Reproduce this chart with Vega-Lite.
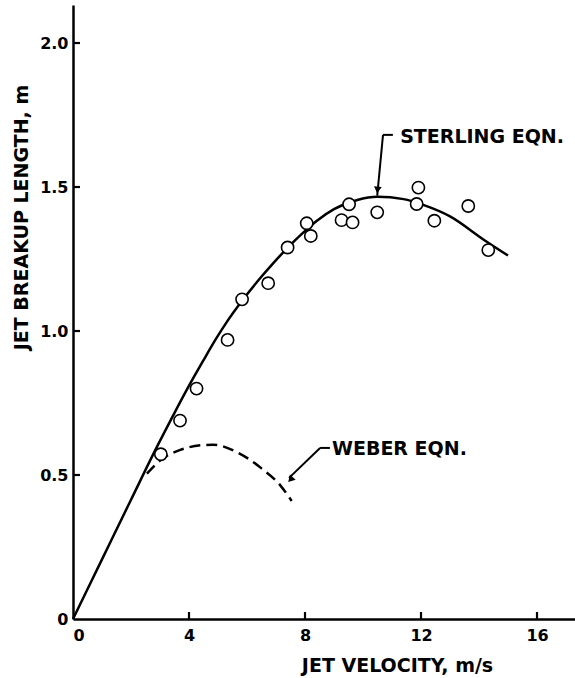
{
  "$schema": "https://vega.github.io/schema/vega-lite/v6.json",
  "autosize": "none",
  "width": 502,
  "height": 614,
  "padding": {"left": 73, "top": 5, "right": 0, "bottom": 59},
  "background": "white",
  "config": {
    "view": {"stroke": null},
    "font": "DejaVu Sans",
    "axis": {
      "grid": false,
      "ticks": false,
      "domainColor": "black",
      "domainWidth": 2.5,
      "labelColor": "black",
      "labelFont": "DejaVu Sans",
      "labelFontSize": 16,
      "labelFontWeight": "bold",
      "titleColor": "black",
      "titleFont": "DejaVu Sans",
      "titleFontSize": 19,
      "titleFontWeight": "bold"
    }
  },
  "datasets": {
    "obs": [
      {"v": 3.03, "L": 0.572},
      {"v": 3.69, "L": 0.689},
      {"v": 4.26, "L": 0.800},
      {"v": 5.33, "L": 0.969},
      {"v": 5.83, "L": 1.110},
      {"v": 6.73, "L": 1.166},
      {"v": 7.40, "L": 1.290},
      {"v": 8.06, "L": 1.374},
      {"v": 8.20, "L": 1.330},
      {"v": 9.26, "L": 1.385},
      {"v": 9.52, "L": 1.440},
      {"v": 9.64, "L": 1.377},
      {"v": 10.49, "L": 1.412},
      {"v": 11.85, "L": 1.441},
      {"v": 11.91, "L": 1.498},
      {"v": 12.46, "L": 1.383},
      {"v": 13.63, "L": 1.434},
      {"v": 14.32, "L": 1.281}
    ],
    "sterling": [
      {"v": 0, "L": 0},
      {"v": 1.0, "L": 0.207},
      {"v": 2.0, "L": 0.414},
      {"v": 2.88, "L": 0.595},
      {"v": 3.46, "L": 0.708},
      {"v": 3.80, "L": 0.773},
      {"v": 4.15, "L": 0.837},
      {"v": 4.49, "L": 0.897},
      {"v": 4.95, "L": 0.976},
      {"v": 5.30, "L": 1.031},
      {"v": 5.83, "L": 1.105},
      {"v": 6.40, "L": 1.177},
      {"v": 6.90, "L": 1.235},
      {"v": 7.40, "L": 1.289},
      {"v": 7.90, "L": 1.338},
      {"v": 8.40, "L": 1.382},
      {"v": 9.00, "L": 1.423},
      {"v": 9.80, "L": 1.455},
      {"v": 10.50, "L": 1.466},
      {"v": 11.40, "L": 1.458},
      {"v": 12.10, "L": 1.437},
      {"v": 13.00, "L": 1.398},
      {"v": 14.15, "L": 1.318},
      {"v": 15.00, "L": 1.262}
    ],
    "weber": [
      {"v": 2.55, "L": 0.505},
      {"v": 3.0, "L": 0.55},
      {"v": 3.7, "L": 0.587},
      {"v": 4.4, "L": 0.603},
      {"v": 4.84, "L": 0.605},
      {"v": 5.64, "L": 0.58},
      {"v": 6.5, "L": 0.523},
      {"v": 7.14, "L": 0.465},
      {"v": 7.54, "L": 0.41}
    ],
    "leaders": [
      {"x1": 10.69, "y1": 1.681, "x2": 11.03, "y2": 1.681},
      {"x1": 10.69, "y1": 1.681, "x2": 10.49, "y2": 1.47},
      {"x1": 8.52, "y1": 0.594, "x2": 8.86, "y2": 0.594},
      {"x1": 8.52, "y1": 0.594, "x2": 7.45, "y2": 0.49}
    ],
    "labels": [
      {"x": 11.28, "y": 1.653, "text": "STERLING EQN."},
      {"x": 8.93, "y": 0.569, "text": "WEBER EQN."}
    ],
    "headS": [{"x": 10.50, "y": 1.49}],
    "headW": [{"x": 7.50, "y": 0.484}],
    "xticks": [{"v": 4}, {"v": 8}, {"v": 12}, {"v": 16}],
    "yticks": [{"L": 0.5}, {"L": 1.0}, {"L": 1.5}, {"L": 2.0}]
  },
  "layer": [
    {
      "data": {"name": "sterling"},
      "mark": {"type": "line", "color": "black", "strokeWidth": 2.5, "interpolate": "monotone"},
      "encoding": {
        "x": {
          "field": "v", "type": "quantitative",
          "scale": {"domain": [0, 17.31], "nice": false, "zero": false},
          "axis": {
            "values": [0, 4, 8, 12, 16],
            "labelPadding": 8,
            "title": "JET VELOCITY, m/s",
            "titleX": 324,
            "titleY": 52,
            "titleAnchor": null,
            "titleAlign": "center",
            "titleBaseline": "alphabetic"
          }
        },
        "y": {
          "field": "L", "type": "quantitative",
          "scale": {"domain": [0, 2.132], "nice": false, "zero": false},
          "axis": {
            "values": [0, 0.5, 1, 1.5, 2],
            "labelPadding": 5,
            "labelExpr": "datum.value == 0 ? '0' : format(datum.value, '.1f')",
            "title": "JET BREAKUP LENGTH, m",
            "titleAngle": -90,
            "titleX": -52,
            "titleY": 212,
            "titleAlign": "center",
            "titleBaseline": "middle"
          }
        }
      }
    },
    {
      "data": {"name": "xticks"},
      "mark": {"type": "point", "shape": "M0,-1V0", "stroke": "black", "strokeWidth": 2.2, "size": 196, "filled": false, "opacity": 1},
      "encoding": {
        "x": {"field": "v", "type": "quantitative"},
        "y": {"datum": 0, "type": "quantitative"}
      }
    },
    {
      "data": {"name": "yticks"},
      "mark": {"type": "point", "shape": "M0,0H1", "stroke": "black", "strokeWidth": 2.2, "size": 196, "filled": false, "opacity": 1},
      "encoding": {
        "y": {"field": "L", "type": "quantitative"},
        "x": {"datum": 0, "type": "quantitative"}
      }
    },
    {
      "data": {"name": "weber"},
      "mark": {"type": "line", "color": "black", "strokeWidth": 2.5, "strokeDash": [11, 6], "interpolate": "monotone"},
      "encoding": {
        "x": {"field": "v", "type": "quantitative"},
        "y": {"field": "L", "type": "quantitative"}
      }
    },
    {
      "data": {"name": "leaders"},
      "mark": {"type": "rule", "color": "black", "strokeWidth": 2},
      "encoding": {
        "x": {"field": "x1", "type": "quantitative"},
        "y": {"field": "y1", "type": "quantitative"},
        "x2": {"field": "x2"},
        "y2": {"field": "y2"}
      }
    },
    {
      "data": {"name": "headS"},
      "mark": {"type": "point", "shape": "triangle-up", "filled": true, "color": "black", "size": 60, "angle": 186, "opacity": 1},
      "encoding": {
        "x": {"field": "x", "type": "quantitative"},
        "y": {"field": "y", "type": "quantitative"}
      }
    },
    {
      "data": {"name": "headW"},
      "mark": {"type": "point", "shape": "triangle-up", "filled": true, "color": "black", "size": 60, "angle": 223, "opacity": 1},
      "encoding": {
        "x": {"field": "x", "type": "quantitative"},
        "y": {"field": "y", "type": "quantitative"}
      }
    },
    {
      "data": {"name": "obs"},
      "mark": {"type": "point", "shape": "circle", "filled": true, "fill": "white", "stroke": "black", "strokeWidth": 1.6, "size": 150, "opacity": 1},
      "encoding": {
        "x": {"field": "v", "type": "quantitative"},
        "y": {"field": "L", "type": "quantitative"}
      }
    },
    {
      "data": {"name": "labels"},
      "mark": {"type": "text", "align": "left", "baseline": "alphabetic", "font": "DejaVu Sans", "fontSize": 19, "fontWeight": "bold", "color": "black"},
      "encoding": {
        "x": {"field": "x", "type": "quantitative"},
        "y": {"field": "y", "type": "quantitative"},
        "text": {"field": "text"}
      }
    }
  ]
}
